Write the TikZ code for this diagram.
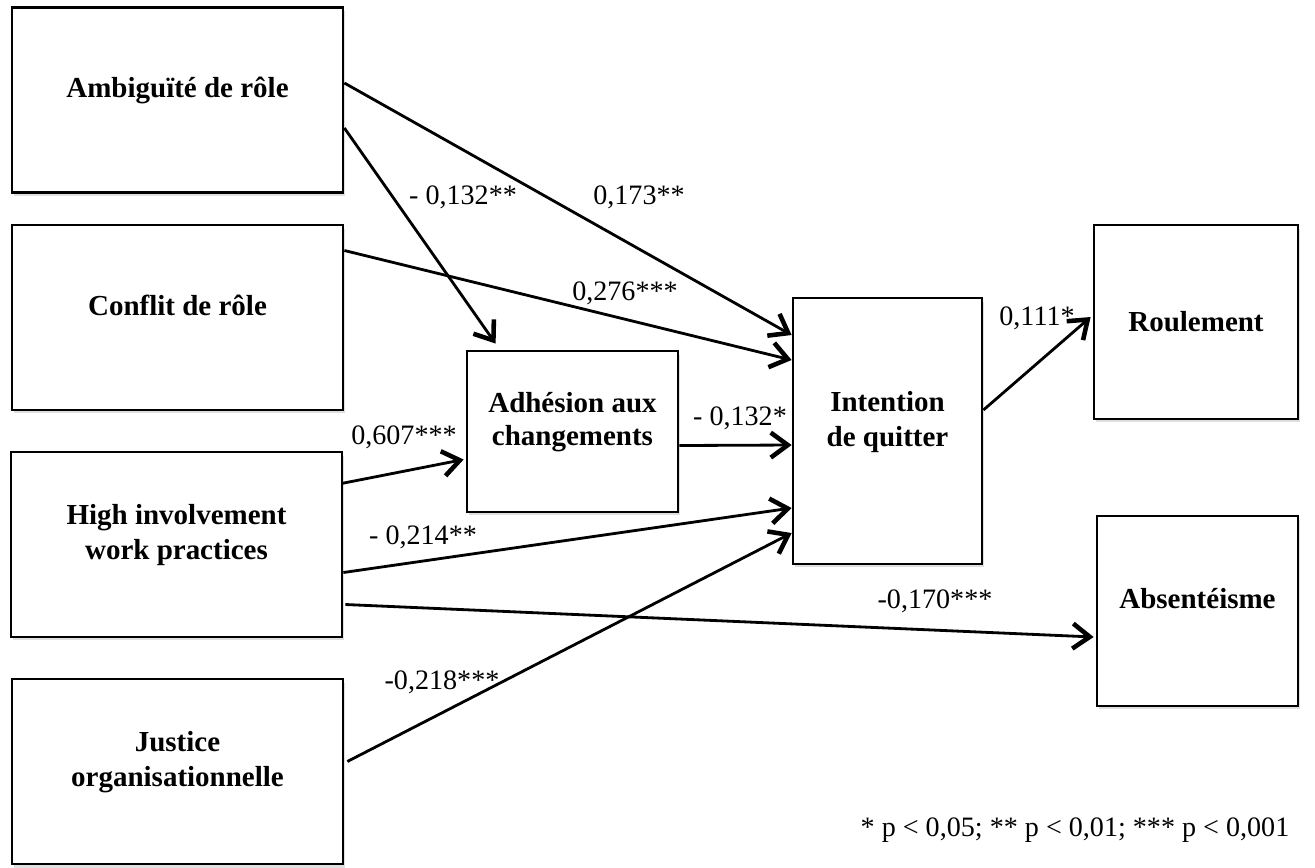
\documentclass[tikz,border=0pt]{standalone}
\usepackage{fontspec}
\setmainfont{Liberation Serif}
\usetikzlibrary{
    calc,
    arrows.meta,
    shadows
}
\tikzset{
  every path/.style={
    black,
    line width=1.6pt
  },
  box/.style={
    draw,
    rectangle,
    fill=white,
    align=center,
    inner sep=1.5pt,
    font=\fontsize{16.5}{20}\selectfont\bfseries,
    drop shadow={shadow xshift=0.04cm,shadow yshift=-0.07cm,opacity=0.25}
  },
  raised/.style={
    text depth=0.5cm
  },
  wide box/.style={
    box,
    raised,
    minimum width=6.62cm,
    minimum height=3.7cm
  },
  coef/.style={
    font=\fontsize{16}{19}\selectfont,
    inner sep=0pt
  },
  arr/.style={
    -{Straight Barb[length=0.34cm,width=0.5cm,line width=2.6pt]}
  }
}

\begin{document}
\begin{tikzpicture}[x=0.02cm,y=-0.02cm]
    \useasboundingbox (0,0) rectangle (1315,867);
    %-------------------------
    %left: the four predictors
    %-------------------------
    \node[wide box] (ambig) at (177.5,100) {Ambiguïté de rôle};
    \node[wide box] (conflit) at (177.5,317.5) {Conflit de rôle};
    \node[wide box] (high) at (176.5,544.5) {High involvement\\work practices};
    \node[wide box] (justice) at (177.5,771.5) {Justice\\organisationnelle};

    %-------------------------
    %middle: mediator and intention
    %-------------------------
    \node[box,raised,minimum width=4.22cm,minimum height=3.22cm,font=\fontsize{16.5}{18.5}\selectfont\bfseries] (adhesion) at (572.5,431.5) {Adhésion aux\\changements};
    \node[box,raised,minimum width=3.78cm,minimum height=5.32cm] (intention) at (887.5,431) {Intention\\de quitter};

    %-------------------------
    %right: outcomes
    %-------------------------
    \node[box,minimum width=4.08cm,minimum height=3.88cm] (roulement) at (1196,322) {Roulement};
    \node[box,raised,minimum width=4.02cm,minimum height=3.8cm] (absent) at (1197.5,611) {Absentéisme};

    \draw[arr] ($(ambig.east)+(0,-17)$) -- ($(intention.west)+(0,-96)$);
    \draw[arr] ($(ambig.east)+(0,28)$) -- ($(adhesion.north west)+(30,-6)$);
    \draw[arr] ($(conflit.east)+(0,-67)$) -- ($(intention.west)+(0,-71)$);
    \draw[arr] ($(high.east)+(-2,-61)$) -- ($(adhesion.west)+(-2,28)$);
    \draw[arr] ($(adhesion.east)+(0,14)$) -- ($(intention.west)+(0,14)$);
    \draw[arr] ($(high.east)+(0,28)$) -- ($(intention.west)+(0,77)$);
    \draw[arr] ($(justice.east)+(3,-10)$) -- ($(intention.west)+(0,102)$);
    \draw[arr] ($(high.east)+(2,60)$) -- ($(absent.west)+(-2,26)$);
    \draw[arr] ($(intention.east)+(0,-21)$) -- ($(roulement.west)+(-2,-5)$);

    \node[coef] (c1) at (463,197) {- 0,132**};
    \node[coef] (c2) at (639,197) {0,173**};
    \node[coef] (c3) at (625,293) {0,276***};
    \node[coef] (c4) at (404,437) {0,607***};
    \node[coef] (c5) at (740,418) {- 0,132*};
    \node[coef] (c6) at (423,537) {- 0,214**};
    \node[coef] (c7) at (442,682) {-0,218***};
    \node[coef] (c8) at (935,601) {-0,170***};
    \node[coef] (c9) at (1037,318) {0,111*};

    \node[coef] (note) at (1075,830) {* p < 0,05; ** p < 0,01; *** p < 0,001};

    \end{tikzpicture}
\end{document}
